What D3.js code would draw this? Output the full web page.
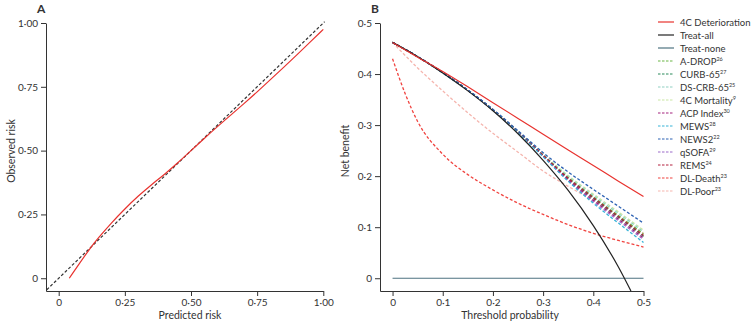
<!DOCTYPE html>
<html><head><meta charset="utf-8">
<script src="https://cdn.jsdelivr.net/npm/d3@7"></script>
<style>
body{margin:0;background:#fff;}
text{font-family:Lato,"Liberation Sans",sans-serif;fill:#333;}
</style></head>
<body><svg id="c" width="753" height="326"></svg>
<script>
// ---------- Panel A: calibration ----------
const predictedRisk = [0.04,0.08,0.12,0.15,0.20,0.25,0.30,0.35,0.40,0.45,0.50,0.55,0.60,0.65,0.70,0.75,0.80,0.85,0.90,0.95,1.00];
const observedRisk  = [0.00,0.06,0.12,0.158,0.218,0.272,0.322,0.366,0.407,0.452,0.50,0.548,0.594,0.639,0.684,0.73,0.778,0.826,0.875,0.925,0.975];
const idealLine = [-0.045, 1.005];
const calTicks = [0,0.25,0.5,0.75,1];

// ---------- Panel B: decision curves ----------
const thresholds = [0,0.05,0.10,0.15,0.20,0.25,0.30,0.35,0.40,0.45,0.50];
const treatAllT  = [0,0.05,0.10,0.15,0.20,0.25,0.30,0.35,0.40,0.45,0.475];
const treatAllNB = [0.462,0.434,0.402,0.367,0.328,0.283,0.231,0.172,0.103,0.022,-0.025];
const treatNoneNB = [0,0,0,0,0,0,0,0,0,0,0];
const det4C   = [0.462,0.433,0.405,0.375,0.344,0.313,0.282,0.251,0.221,0.190,0.160];
const aDrop   = [0.462,0.434,0.403,0.368,0.330,0.287,0.241,0.197,0.159,0.123,0.087];
const curb65  = [0.462,0.434,0.403,0.368,0.330,0.287,0.240,0.195,0.156,0.119,0.082];
const dsCrb65 = [0.462,0.434,0.403,0.369,0.330,0.287,0.242,0.199,0.162,0.127,0.091];
const mort4C  = [0.462,0.434,0.403,0.369,0.330,0.288,0.243,0.201,0.165,0.130,0.094];
const acp     = [0.462,0.434,0.403,0.368,0.330,0.286,0.240,0.193,0.153,0.116,0.079];
const mews    = [0.462,0.434,0.402,0.368,0.329,0.285,0.238,0.190,0.147,0.108,0.070];
const news2   = [0.462,0.434,0.403,0.369,0.331,0.289,0.246,0.208,0.174,0.141,0.108];
const qsofa   = [0.462,0.434,0.403,0.368,0.329,0.286,0.239,0.191,0.150,0.113,0.076];
const rems    = [0.462,0.434,0.403,0.368,0.330,0.287,0.241,0.196,0.158,0.121,0.084];
const dlDeathT  = [0,0.025,0.05,0.10,0.15,0.20,0.25,0.30,0.35,0.40,0.45,0.50];
const dlDeathNB = [0.430,0.362,0.307,0.243,0.203,0.173,0.147,0.125,0.105,0.088,0.074,0.061];
const dlPoor  = [0.462,0.412,0.367,0.324,0.284,0.247,0.210,0.180,0.152,0.120,0.088];
const dcaTicks = [0,0.1,0.2,0.3,0.4,0.5];

const series = [
 {name:"4C Deterioration", sup:"", x:thresholds, y:det4C, color:"#e8322e", dash:null},
 {name:"Treat-all", sup:"", x:treatAllT, y:treatAllNB, color:"#222222", dash:null},
 {name:"Treat-none", sup:"", x:thresholds, y:treatNoneNB, color:"#4e7280", dash:null},
 {name:"A-DROP", sup:"26", x:thresholds, y:aDrop, color:"#6ab545", dash:"3,2"},
 {name:"CURB-65", sup:"27", x:thresholds, y:curb65, color:"#2b8a5a", dash:"3,2"},
 {name:"DS-CRB-65", sup:"25", x:thresholds, y:dsCrb65, color:"#8fd0c2", dash:"3,2"},
 {name:"4C Mortality", sup:"9", x:thresholds, y:mort4C, color:"#c9e6a3", dash:"3,2"},
 {name:"ACP Index", sup:"30", x:thresholds, y:acp, color:"#a3237e", dash:"3,2"},
 {name:"MEWS", sup:"28", x:thresholds, y:mews, color:"#36b3d8", dash:"3,2"},
 {name:"NEWS2", sup:"22", x:thresholds, y:news2, color:"#2d62b3", dash:"3,2"},
 {name:"qSOFA", sup:"29", x:thresholds, y:qsofa, color:"#9b6bc9", dash:"3,2"},
 {name:"REMS", sup:"24", x:thresholds, y:rems, color:"#b3213f", dash:"3,2"},
 {name:"DL-Death", sup:"23", x:dlDeathT, y:dlDeathNB, color:"#f0433f", dash:"3,2"},
 {name:"DL-Poor", sup:"23", x:thresholds, y:dlPoor, color:"#f5b5ae", dash:"3,2"}
];

const svg = d3.select("#c");
const fmt = (d, digits) => d===0 ? "0" : d3.format("."+digits+"f")(d).replace(".", "\u00b7");

// Panel A
const xA = d3.scaleLinear([-0.048,1],[46,323.3]);
const yA = d3.scaleLinear([-0.05,1],[291,23]);
const gA = svg.append("g");
const axA_x = gA.append("g").attr("transform","translate(0,291)")
  .call(d3.axisBottom(xA).tickValues(calTicks).tickFormat(d=>fmt(d,2)).tickSize(5).tickSizeOuter(0).tickPadding(3));
const axA_y = gA.append("g").attr("transform","translate(46,0)")
  .call(d3.axisLeft(yA).tickValues(calTicks).tickFormat(d=>fmt(d,2)).tickSize(5).tickSizeOuter(0).tickPadding(3));
[axA_x,axA_y].forEach(a=>{a.selectAll("path,line").attr("stroke","#333").attr("stroke-width",1);a.selectAll("text").attr("font-size",10).attr("fill","#333");});

gA.append("path").datum(idealLine)
  .attr("d", d3.line().x(d=>xA(d)).y(d=>yA(d)))
  .attr("stroke","#333").attr("stroke-width",1.2).attr("stroke-dasharray","3,2").attr("fill","none");
gA.append("path").datum(d3.zip(predictedRisk,observedRisk))
  .attr("d", d3.line().x(d=>xA(d[0])).y(d=>yA(d[1])).curve(d3.curveBasis))
  .attr("stroke","#e8322e").attr("stroke-width",1.2).attr("fill","none");

gA.append("text").attr("x",190).attr("y",319).attr("text-anchor","middle").attr("font-size",10.5).text("Predicted risk");
gA.append("text").attr("transform","translate(15,151) rotate(-90)").attr("text-anchor","middle").attr("font-size",10.5).text("Observed risk");
gA.append("text").attr("x",37).attr("y",13).attr("font-size",12).attr("font-weight","bold").text("A");

// Panel B
const xB = d3.scaleLinear([-0.025,0.5],[380,643.5]);
const yB = d3.scaleLinear([-0.025,0.5],[291,23]);
const gB = svg.append("g");
const axB_x = gB.append("g").attr("transform","translate(0,291)")
  .call(d3.axisBottom(xB).tickValues(dcaTicks).tickFormat(d=>fmt(d,1)).tickSize(5).tickSizeOuter(0).tickPadding(3));
const axB_y = gB.append("g").attr("transform","translate(380,0)")
  .call(d3.axisLeft(yB).tickValues(dcaTicks).tickFormat(d=>fmt(d,1)).tickSize(5).tickSizeOuter(0).tickPadding(3));
[axB_x,axB_y].forEach(a=>{a.selectAll("path,line").attr("stroke","#333").attr("stroke-width",1);a.selectAll("text").attr("font-size",10).attr("fill","#333");});

const lineB = d3.line().x(d=>xB(d[0])).y(d=>yB(d[1])).curve(d3.curveMonotoneX);
const drawOrder = [2,13,12,6,5,3,4,10,7,11,8,9,1,0];
drawOrder.forEach(i=>{
  const s = series[i];
  gB.append("path").datum(d3.zip(s.x,s.y))
    .attr("d", lineB).attr("fill","none").attr("stroke", s.color)
    .attr("stroke-width", s.dash ? 1.3 : 1.2)
    .attr("stroke-dasharray", s.dash);
});

gB.append("text").attr("x",510).attr("y",319).attr("text-anchor","middle").attr("font-size",10.5).text("Threshold probability");
gB.append("text").attr("transform","translate(349,151) rotate(-90)").attr("text-anchor","middle").attr("font-size",10.5).text("Net benefit");
gB.append("text").attr("x",371).attr("y",13).attr("font-size",12).attr("font-weight","bold").text("B");

// Legend
const lg = svg.append("g");
series.forEach((s,i)=>{
  const y = 22 + i*13;
  lg.append("line").attr("x1",658).attr("x2",674).attr("y1",y).attr("y2",y)
    .attr("stroke",s.color).attr("stroke-width",1.2).attr("stroke-dasharray", s.dash ? "2.5,1.5" : null);
  const t = lg.append("text").attr("x",680).attr("y",y+3.5).attr("font-size",9.5);
  t.append("tspan").text(s.name);
  if (s.sup) t.append("tspan").attr("font-size",5.5).attr("dy",-4).text(s.sup);
});
</script></body></html>
